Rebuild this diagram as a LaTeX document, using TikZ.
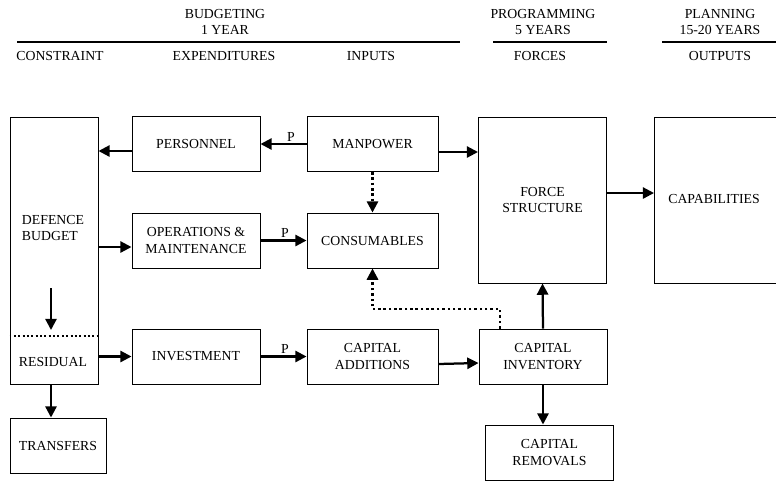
\documentclass[tikz,border=0pt]{standalone}
\usepackage{fontspec}
\setmainfont{Liberation Serif}
\usetikzlibrary{arrows.meta}
\newcommand{\px}{0.025cm}

\begin{document}
\begin{tikzpicture}[x=\px, y=-\px, font=\fontsize{9.8}{11.5}\selectfont,
    box/.style={draw, rectangle, line width=0.7pt, minimum width=128*\px, minimum height=55*\px, inner sep=0pt, align=center},
    lbl/.style={inner sep=1pt, align=center},
    arr/.style={line width=1.6pt, -{Triangle[length=8pt, width=8pt]}},
    dotarr/.style={arr, dash pattern=on 1.8pt off 2pt},
    dotline/.style={line width=1.4pt, dash pattern=on 1.4pt off 1.7pt},
    head/.style={line width=2pt}]
    \useasboundingbox (0,0) rectangle (776,483);

    % Header
    \node[lbl] (budgeting) at (225,22) {BUDGETING\\1 YEAR};
    \node[lbl] (programming) at (543,22) {PROGRAMMING\\5 YEARS};
    \node[lbl] (planning) at (720,22) {PLANNING\\15-20 YEARS};
    \draw[head] (17,42) -- (460,42);
    \draw[head] (493,42) -- (607,42);
    \draw[head] (662,42) -- (776,42);
    \node[lbl] (constraint) at (60,56) {CONSTRAINT};
    \node[lbl] (expenditures) at (224,56) {EXPENDITURES};
    \node[lbl] (inputs) at (371,56) {INPUTS};
    \node[lbl] (forces) at (540,56) {FORCES};
    \node[lbl] (outputs) at (720,56) {OUTPUTS};

    % Budget column
    \node[box, minimum width=88*\px, minimum height=267*\px] (budget) at (54,250.5) {};
    \node[lbl, align=left] (defence) at (53,228) {DEFENCE\\BUDGET};
    \node[lbl] (residual) at (53,362) {RESIDUAL};
    \node[box, minimum width=96*\px] (transfers) at (58,445.5) {TRANSFERS};
    \coordinate (cut) at (51,288);
    \coordinate (split) at (54,336);

    % First row
    \node[box] (personnel) at (196,144) {PERSONNEL};
    \node[box, minimum width=131*\px] (manpower) at (372.5,144) {MANPOWER};
    \node[box, minimum height=166*\px] (force) at (542.5,200) {FORCE\\STRUCTURE};
    \node[box, minimum width=135*\px, minimum height=166*\px] (capabilities) at (722,200) {};
    \node[lbl] (capabilitiestext) at (714,199) {CAPABILITIES};

    % Second row
    \node[box] (operations) at (196,240.5) {OPERATIONS \&\\MAINTENANCE};
    \node[box, minimum width=131*\px] (consumables) at (372.5,240.5) {CONSUMABLES};

    % Third row
    \node[box] (investment) at (196,356.5) {INVESTMENT};
    \node[box, minimum width=131*\px] (additions) at (372.5,356.5) {CAPITAL\\ADDITIONS};
    \node[box] (inventory) at (543,356.5) {CAPITAL\\INVENTORY};
    \node[box] (removals) at (549.5,452.5) {CAPITAL\\REMOVALS};
    \coordinate (loop) at (500,309);

    % Connectors
    \draw[arr] (personnel.west |- 0,151) -- (budget.east |- 0,151);
    \draw[arr] (manpower.west) -- (personnel.east) node[pos=0.34, above, inner sep=1pt] {P};
    \draw[arr] (manpower.east |- 0,152) -- (force.west |- 0,152);
    \draw[dotarr] (manpower.south) -- (consumables.north);
    \draw[arr] (budget.east |- 0,247) -- (operations.west |- 0,247);
    \draw[arr] (operations.east) -- (consumables.west) node[pos=0.53, above, inner sep=1pt] {P};
    \draw[arr] (force.east |- 0,193) -- (capabilities.west |- 0,193);
    \draw[dotline] (budget.west |- split) -- (budget.east |- split);
    \draw[arr, shorten >=6*\px] (cut) -- (cut |- split);
    \draw[arr] (budget.east |- investment.west) -- (investment.west);
    \draw[arr] (investment.east) -- (additions.west) node[pos=0.53, above, inner sep=1pt] {P};
    \draw[arr] (additions.east |- 0,364) -- (inventory.west |- 0,363);
    \draw[arr] (inventory.north) -- (force.south);
    \draw[arr] (inventory.south) -- (inventory.south |- removals.north);
    \draw[arr] (cut |- budget.south) -- (cut |- transfers.north);
    \draw[dotarr] (inventory.north -| loop) -- (loop) -| (consumables.south);

\end{tikzpicture}
\end{document}
